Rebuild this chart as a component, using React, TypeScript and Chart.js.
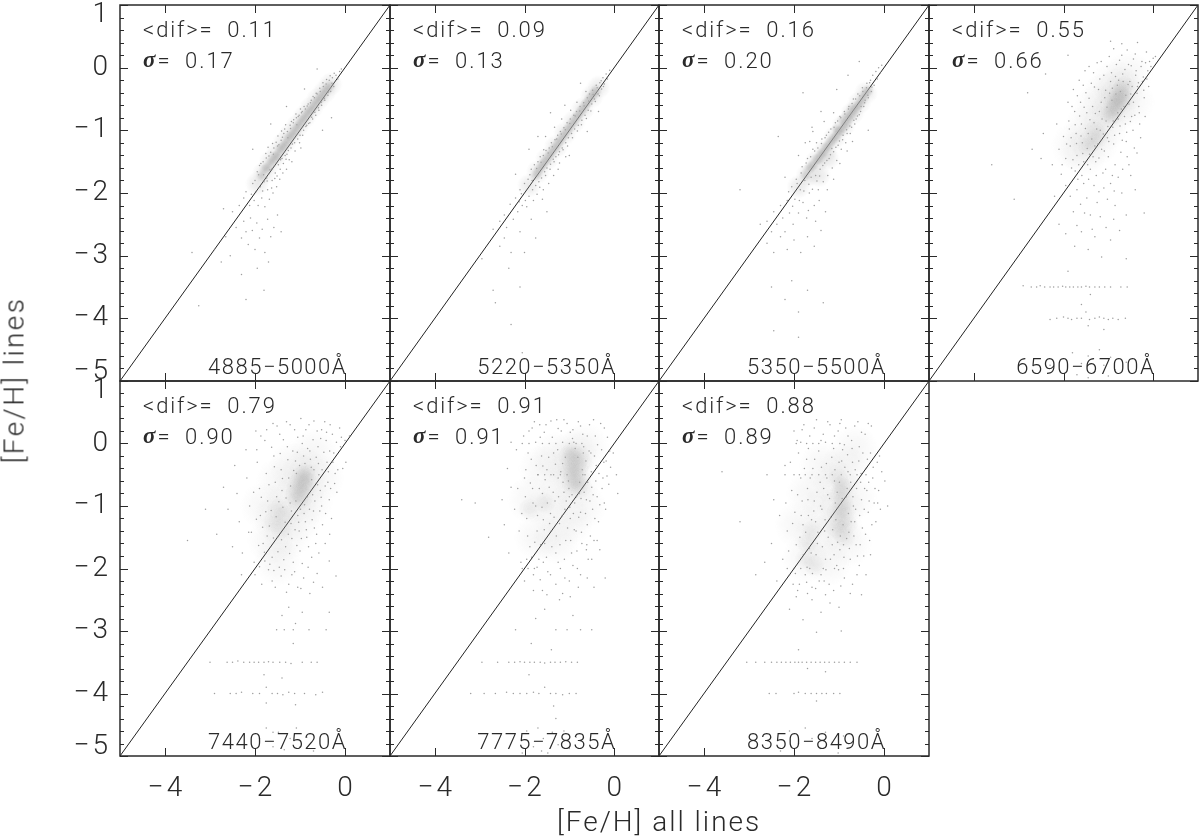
import React, { useEffect, useRef } from "react";
import { Chart, registerables } from "chart.js";

Chart.register(...registerables);

const xTickValues = [-4, -2, 0];
const yTickValues = [-5, -4, -3, -2, -1, 0, 1];
const difLabels = ["0.11", "0.09", "0.16", "0.55", "0.79", "0.91", "0.88"];
const sigmaLabels = ["0.17", "0.13", "0.20", "0.66", "0.90", "0.91", "0.89"];
const rangeLabels = ["4885−5000Å", "5220−5350Å", "5350−5500Å", "6590−6700Å", "7440−7520Å", "7775−7835Å", "8350−8490Å"];
const identityLine = [[-5, -5], [1, 1]];

const p1Haze = [[-1.95,-1.85],[-1.8,-1.68],[-1.65,-1.5],[-1.5,-1.36],[-1.35,-1.2],[-1.2,-1.06],[-1.05,-.92],[-.9,-.78],[-.75,-.64],[-.6,-.5],[-.45,-.38],[-.32,-.26]];
const p2Haze = [[-1.9,-1.88],[-1.7,-1.66],[-1.5,-1.46],[-1.3,-1.26],[-1.1,-1.05],[-.9,-.86],[-.7,-.66],[-.5,-.46],[-.35,-.31]];
const p3Haze = [[-1.9,-1.9],[-1.7,-1.72],[-1.5,-1.5],[-1.3,-1.32],[-1.1,-1.12],[-.9,-.92],[-.7,-.72],[-.55,-.56],[-.4,-.4],[-1.45,-1.72],[-1.25,-1.45]];
const p4Haze = [[-1.75,-1.25],[-1.55,-1.35],[-1.45,-.95],[-1.3,-1.2],[-1.25,-.65],[-1.1,-.95],[-1.05,-.45],[-.9,-.7],[-.8,-.55],[-.72,-.35],[-.55,-.12],[-.85,-.25],[-.5,-.55]];
const p5Haze = [[-1.8,-1.0],[-1.65,-1.55],[-1.5,-1.2],[-1.45,-.6],[-1.3,-1.5],[-1.25,-.95],[-1.15,-.35],[-1.05,-1.2],[-.95,-.72],[-.9,-.45],[-.8,-.95],[-.7,-.15],[-.55,-.55],[-1.5,-1.9]];
const p6Haze = [[-1.85,-.9],[-1.7,-1.5],[-1.6,-.4],[-1.45,-1.05],[-1.3,-.2],[-1.3,-1.55],[-1.15,-.7],[-1,-1.25],[-.95,-.4],[-.88,-.15],[-.85,-.65],[-.7,-1.0],[-.65,-.05]];
const p7Haze = [[-1.9,-1.3],[-1.75,-1.85],[-1.65,-.8],[-1.5,-1.5],[-1.35,-.35],[-1.3,-1.05],[-1.25,-1.9],[-1.05,-.65],[-1,-1.35],[-.95,-1.05],[-.9,-.4],[-.8,-1.6],[-.7,-.85],[-.65,-.1]];

const p1Core = [[-1.85,-1.72],[-1.78,-1.62],[-1.72,-1.6],[-1.66,-1.52],[-1.6,-1.48],[-1.55,-1.42],[-1.5,-1.4],[-1.45,-1.32],[-1.4,-1.28],[-1.35,-1.24],[-1.3,-1.2],[-1.25,-1.13],[-1.2,-1.09],[-1.15,-1.05],[-1.1,-1.0],[-1.05,-.94],[-1,-.9],[-.95,-.84],[-.9,-.8],[-.85,-.75],[-.8,-.7],[-.75,-.66],[-.7,-.62],[-.65,-.56],[-.6,-.52],[-.55,-.48],[-.5,-.44],[-.45,-.38],[-.4,-.34],[-.34,-.29]];
const p1Cloud = [[-2.25,-2.08],[-2.2,-1.98],[-2.12,-2.2],[-2.08,-2.02],[-2.05,-1.85],[-2.02,-2.12],[-2,-1.8],[-1.98,-1.98],[-1.95,-1.66],[-1.93,-2.2],[-1.9,-1.56],[-1.88,-1.9],[-1.85,-2.08],[-1.82,-1.5],[-1.8,-1.82],[-1.78,-2.22],[-1.75,-1.44],[-1.72,-1.95],[-1.7,-1.7],[-1.68,-2.1],[-1.65,-1.35],[-1.62,-1.8],[-1.6,-2.0],[-1.58,-1.28],[-1.55,-1.68],[-1.52,-1.9],[-1.5,-1.25],[-1.48,-1.55],[-1.45,-1.78],[-1.42,-1.16],[-1.4,-1.45],[-1.38,-1.68],[-1.36,-1.05],[-1.33,-1.4],[-1.3,-1.62],[-1.28,-1.02],[-1.26,-1.32],[-1.22,-.92],[-1.2,-1.28],[-1.18,-1.5],[-1.15,-.88],[-1.12,-1.2],[-1.08,-.8],[-1.05,-1.14],[-1.02,-.76],[-1,-1.08],[-.98,-1.28],[-.95,-.7],[-.92,-1.0],[-.88,-.66],[-.85,-.92],[-.82,-.58],[-.78,-.88],[-.75,-.52],[-.72,-.82],[-.68,-.48],[-.65,-.76],[-.62,-.42],[-.58,-.68],[-.55,-.38],[-.52,-.6],[-.48,-.3],[-.45,-.52],[-.42,-.26],[-.38,-.44],[-.35,-.2],[-.32,-.38],[-.28,-.16],[-.25,-.3],[-.2,-.12],[-.16,-.18],[-.12,-.06],[-.08,-.02],[-.62,-.02],[-.9,-.34],[-1.3,-.62],[-2.5,-2.3],[-2.42,-2.55],[-2.35,-2.2],[-2.3,-2.72],[-2.25,-2.45],[-2.2,-2.62],[-2.15,-2.82],[-2.1,-2.4],[-2.06,-2.6],[-2,-2.9],[-1.96,-2.48],[-1.9,-2.72],[-1.84,-2.58],[-1.78,-2.95],[-1.72,-2.42],[-1.65,-2.7],[-1.58,-2.55],[-1.5,-2.35],[-1.42,-2.62],[-2.65,-2.7],[-2.55,-3.0],[-2.75,-3.1],[-2.3,-3.3],[-1.8,-3.55],[-2.2,-3.7],[-1.95,-3.2],[-1.7,-3.1],[-3.25,-3.8],[-2.9,-2.9],[-3.4,-2.95],[-2.7,-2.25],[-2.05,-1.3],[-1.65,-.9],[-.5,-1.0],[-.3,-.8]];
const p1Extra = [[-1.92,-1.71],[-1.87,-1.53],[-1.83,-1.97],[-1.76,-1.37],[-1.74,-1.76],[-1.69,-1.41],[-1.67,-1.63],[-1.63,-1.92],[-1.59,-1.38],[-1.57,-1.57],[-1.53,-1.19],[-1.51,-1.73],[-1.47,-1.23],[-1.44,-1.62],[-1.39,-1.11],[-1.37,-1.53],[-1.34,-.98],[-1.29,-1.38],[-1.27,-1.12],[-1.24,-1.47],[-1.21,-.97],[-1.17,-1.22],[-1.14,-.83],[-1.11,-1.33],[-1.07,-.91],[-1.04,-.78],[-1.01,-1.2],[-.97,-.72],[-.94,-1.08],[-.91,-.62],[-.87,-.94],[-.84,-.61],[-.81,-.89],[-.77,-.56],[-.74,-.79],[-.71,-.46],[-.67,-.71],[-.64,-.41],[-.59,-.64],[-.56,-.33],[-.53,-.55],[-.49,-.24],[-.46,-.49],[-.41,-.19],[-.37,-.39],[-.33,-.13],[-.29,-.25],[-.24,-.09],[-1.31,-1.46],[-1.43,-1.47],[-1.56,-1.77],[-1.62,-1.61],[-1.73,-1.81],[-1.81,-1.71],[-.99,-.66],[-1.09,-.74],[-1.19,-.86],[-1.32,-.91],[-1.41,-1.01],[-1.49,-1.09],[-1.61,-1.21],[-1.71,-1.27]];

const p2Core = [[-1.75,-1.72],[-1.7,-1.66],[-1.65,-1.6],[-1.6,-1.55],[-1.55,-1.5],[-1.5,-1.46],[-1.45,-1.4],[-1.4,-1.36],[-1.35,-1.3],[-1.3,-1.26],[-1.25,-1.2],[-1.2,-1.16],[-1.15,-1.1],[-1.1,-1.06],[-1.05,-1.0],[-1,-.96],[-.95,-.9],[-.9,-.86],[-.85,-.8],[-.8,-.76],[-.75,-.7],[-.7,-.66],[-.65,-.6],[-.6,-.56],[-.55,-.5],[-.5,-.46],[-.45,-.41],[-.4,-.36]];
const p2Cloud = [[-2.55,-2.45],[-2.45,-2.35],[-2.4,-2.55],[-2.32,-2.18],[-2.25,-2.42],[-2.2,-2.08],[-2.15,-2.3],[-2.1,-1.95],[-2.05,-2.2],[-2,-1.85],[-1.98,-2.12],[-1.92,-1.78],[-1.9,-2.05],[-1.85,-1.62],[-1.82,-1.95],[-1.78,-1.55],[-1.75,-1.88],[-1.7,-1.5],[-1.68,-1.82],[-1.65,-1.42],[-1.62,-1.76],[-1.58,-1.4],[-1.55,-1.66],[-1.52,-1.32],[-1.5,-1.6],[-1.45,-1.28],[-1.42,-1.54],[-1.4,-1.2],[-1.36,-1.46],[-1.32,-1.15],[-1.3,-1.42],[-1.26,-1.08],[-1.22,-1.34],[-1.2,-1.02],[-1.16,-1.28],[-1.12,-.96],[-1.08,-1.2],[-1.05,-.88],[-1.02,-1.12],[-.98,-.82],[-.95,-1.05],[-.9,-.76],[-.88,-.98],[-.84,-.7],[-.8,-.92],[-.76,-.62],[-.72,-.84],[-.68,-.56],[-.65,-.76],[-.6,-.48],[-.58,-.68],[-.55,-.42],[-.5,-.58],[-.48,-.36],[-.44,-.5],[-.4,-.28],[-.36,-.42],[-.32,-.24],[-.28,-.34],[-.25,-.16],[-.22,-.26],[-.18,-.1],[-.15,-.18],[-.1,-.04],[-2.7,-2.58],[-2.55,-2.85],[-2.45,-2.72],[-2.3,-2.95],[-2.1,-2.62],[-2,-2.95],[-1.85,-2.42],[-1.75,-2.72],[-1.6,-2.1],[-1.5,-2.3],[-2.35,-3.2],[-2.7,-3.55],[-2.65,-3.75],[-2.1,-3.5],[-2.3,-4.1],[-2.05,-4.55],[-2.95,-3.05],[-2.2,-1.7],[-1.9,-1.3],[-1.7,-1.1],[-1.42,-.72],[-1.1,-.6],[-.75,-.25],[-1,-1.4],[-1.25,-1.62],[-.6,-1.02],[-.35,-.7]];
const p2Extra = [[-2.12,-2.14],[-2.07,-2.01],[-1.95,-2.22],[-1.88,-1.71],[-1.83,-1.8],[-1.73,-1.61],[-1.66,-1.91],[-1.63,-1.51],[-1.57,-1.31],[-1.53,-1.72],[-1.47,-1.36],[-1.43,-1.62],[-1.38,-1.26],[-1.34,-1.5],[-1.28,-1.14],[-1.24,-1.39],[-1.18,-1.06],[-1.14,-1.31],[-1.09,-.99],[-1.04,-1.25],[-.99,-.89],[-.93,-1.12],[-.87,-.77],[-.82,-1.01],[-.77,-.69],[-.73,-.91],[-.67,-.61],[-.62,-.81],[-.57,-.53],[-.52,-.69],[-.47,-.43],[-.42,-.54],[-.38,-.32],[-.33,-.45],[-.29,-.21],[-.24,-.3],[-1.8,-2.12],[-1.72,-2.02],[-1.58,-1.95],[-1.46,-1.85],[-1.35,-1.72],[-1.22,-1.52],[-1.08,-1.42],[-1.53,-1.1],[-1.33,-.95],[-1.17,-.82],[-.97,-.68],[-.83,-.55],[-.63,-.38]];

const p3Core = [[-1.75,-1.72],[-1.68,-1.62],[-1.62,-1.58],[-1.56,-1.54],[-1.5,-1.46],[-1.45,-1.46],[-1.4,-1.38],[-1.35,-1.36],[-1.3,-1.28],[-1.25,-1.26],[-1.2,-1.2],[-1.15,-1.16],[-1.1,-1.12],[-1.05,-1.08],[-1,-1.02],[-.95,-1.0],[-.9,-.94],[-.85,-.9],[-.8,-.84],[-.75,-.78],[-.7,-.74],[-.65,-.68],[-.6,-.62],[-.55,-.58],[-.5,-.52],[-.45,-.46],[-.4,-.4],[-.35,-.36],[-.92,-.84],[-.82,-.76],[-.72,-.66],[-1.05,-.98]];
const p3Cloud = [[-2.6,-2.45],[-2.5,-2.62],[-2.45,-2.3],[-2.38,-2.5],[-2.3,-2.2],[-2.25,-2.4],[-2.2,-2.62],[-2.15,-2.12],[-2.1,-2.32],[-2.05,-1.9],[-2.02,-2.5],[-1.98,-2.1],[-1.95,-1.78],[-1.9,-2.32],[-1.86,-1.95],[-1.82,-1.58],[-1.8,-2.15],[-1.76,-1.8],[-1.72,-2.4],[-1.7,-1.45],[-1.66,-2.0],[-1.62,-1.75],[-1.58,-1.3],[-1.55,-2.2],[-1.52,-1.72],[-1.5,-1.2],[-1.46,-1.95],[-1.42,-1.62],[-1.38,-1.14],[-1.35,-1.82],[-1.32,-1.52],[-1.28,-1.08],[-1.25,-1.72],[-1.22,-1.45],[-1.18,-.98],[-1.15,-1.6],[-1.12,-1.34],[-1.08,-.88],[-1.05,-1.48],[-1.02,-1.24],[-.98,-.78],[-.95,-1.3],[-.92,-1.15],[-.88,-.7],[-.85,-1.2],[-.82,-1.05],[-.78,-.62],[-.75,-1.05],[-.72,-.95],[-.68,-.5],[-.65,-.9],[-.62,-.82],[-.58,-.42],[-.55,-.75],[-.52,-.7],[-.48,-.32],[-.45,-.62],[-.42,-.52],[-.38,-.25],[-.35,-.48],[-.3,-.2],[-.28,-.38],[-.25,-.12],[-.22,-.28],[-.18,-.06],[-.15,-.18],[-.12,0],[-.08,-.08],[-.05,.04],[-2.75,-2.5],[-2.6,-2.8],[-2.45,-2.95],[-2.3,-2.7],[-2.15,-2.9],[-2,-2.75],[-1.85,-2.95],[-1.7,-2.7],[-1.55,-2.85],[-1.4,-2.6],[-1.3,-2.3],[-2.2,-3.7],[-2.05,-3.4],[-1.7,-3.55],[-1.9,-3.9],[-1.35,-3.75],[-2.5,-3.5],[-2.45,-4.2],[-1.9,-4.3],[-3.2,-1.95],[-2.35,-1.1],[-1.8,-.4],[-1.4,-.7],[-1.6,-.95],[-1.05,-.35],[-.8,-.12],[-.55,.1],[-1.75,-1.2],[-2.2,-1.75],[-.35,-1.0]];
const p3Extra = [[-2.12,-1.98],[-2.03,-2.21],[-1.93,-1.85],[-1.88,-2.12],[-1.84,-1.68],[-1.78,-1.97],[-1.73,-1.52],[-1.67,-1.86],[-1.63,-1.42],[-1.59,-1.94],[-1.54,-1.33],[-1.49,-1.81],[-1.47,-1.28],[-1.43,-1.73],[-1.39,-1.21],[-1.36,-1.56],[-1.31,-1.12],[-1.27,-1.48],[-1.23,-1.03],[-1.19,-1.39],[-1.16,-1.29],[-1.11,-.95],[-1.07,-1.27],[-1.03,-.85],[-.99,-1.17],[-.96,-.8],[-.91,-1.08],[-.87,-.74],[-.83,-.99],[-.79,-.66],[-.76,-.93],[-.71,-.57],[-.67,-.84],[-.63,-.5],[-.59,-.77],[-.54,-.45],[-.51,-.62],[-.47,-.38],[-.43,-.56],[-.39,-.32],[-.36,-.44],[-.32,-.24],[-.27,-.31],[-1.58,-1.02],[-1.33,-.86],[-1.12,-.72],[-1.9,-1.4],[-1.65,-1.18],[-1.44,-2.12],[-1.26,-1.95],[-1.12,-1.78],[-.98,-1.53],[-.82,-1.33],[-.7,-1.18],[-1.68,-2.28],[-1.52,-2.45]];

const p4Core = [[-.98,-.78],[-.94,-.68],[-.9,-.75],[-.88,-.58],[-.85,-.66],[-.82,-.5],[-.8,-.6],[-.78,-.42],[-.76,-.55],[-.72,-.46],[-.7,-.36],[-.68,-.5],[-.65,-.3],[-1.3,-1.0],[-1.35,-1.18],[-1.45,-1.25],[-1.2,-1.1]];
const p4Cloud = [[-2.7,-1.3],[-2.5,-1.45],[-2.45,-1.05],[-2.25,-1.55],[-2.15,-.9],[-2.1,-1.3],[-2.05,-1.7],[-2,-1.1],[-1.95,-1.45],[-1.9,-.55],[-1.88,-.85],[-1.85,-1.25],[-1.82,-1.6],[-1.78,-.35],[-1.75,-.7],[-1.72,-1.05],[-1.7,-1.4],[-1.68,-1.78],[-1.65,-.2],[-1.62,-.55],[-1.6,-.9],[-1.58,-1.2],[-1.55,-1.5],[-1.52,-.05],[-1.5,-.4],[-1.48,-.72],[-1.45,-1.05],[-1.42,-1.38],[-1.4,-1.62],[-1.38,-.25],[-1.35,-.62],[-1.32,-.88],[-1.3,-1.25],[-1.28,-1.5],[-1.25,.08],[-1.22,-.35],[-1.2,-.7],[-1.18,-1.0],[-1.15,-1.3],[-1.12,-1.68],[-1.1,-.12],[-1.08,-.48],[-1.05,-.85],[-1.02,-1.12],[-1,-1.42],[-.98,.18],[-.95,-.22],[-.92,-.52],[-.9,-.95],[-.88,-1.22],[-.85,-1.55],[-.82,.05],[-.8,-.28],[-.78,-.82],[-.75,-1.05],[-.72,-1.35],[-.7,.2],[-.68,-.1],[-.65,-.62],[-.62,-.9],[-.6,-1.18],[-.58,-1.42],[-.55,.05],[-.52,-.22],[-.5,-.42],[-.48,-.78],[-.45,-1.0],[-.42,-1.28],[-.4,.22],[-.38,-.05],[-.35,-.3],[-.32,-.62],[-.3,-.9],[-.28,-1.12],[-.25,.1],[-.22,-.15],[-.2,-.48],[-.18,-.78],[-.15,.25],[-.12,-.05],[-.1,-.3],[-.08,.1],[-.05,.02],[0,.15],[.05,.18],[-1.95,-1.88],[-1.85,-2.05],[-1.78,-2.3],[-1.7,-1.95],[-1.62,-2.18],[-1.55,-1.85],[-1.48,-2.08],[-1.4,-2.35],[-1.32,-1.88],[-1.25,-2.15],[-1.18,-2.38],[-1.1,-1.92],[-1.02,-2.1],[-.95,-1.85],[-.85,-2.2],[-.78,-1.75],[-.7,-2.0],[-.6,-2.35],[-.5,-1.72],[-.4,-1.95],[-.2,-2.32],[-2.2,-2.05],[-2.1,-2.5],[-1.95,-2.65],[-1.75,-2.85],[-1.6,-2.62],[-1.45,-2.9],[-1.3,-2.7],[-1.15,-3.02],[-.95,-2.75],[-.75,-2.6],[-.6,-3.05],[-3.6,-1.55],[-3.1,-2.1],[-2.8,-.4],[-2.4,-.1],[-1.9,.2],[-.95,.42],[-.7,.38],[-.35,.4],[-2.9,-3.48],[-2.72,-3.5],[-2.6,-3.5],[-2.52,-3.48],[-2.42,-3.5],[-2.3,-3.5],[-2.22,-3.5],[-2.12,-3.5],[-2.02,-3.49],[-1.95,-3.5],[-1.86,-3.5],[-1.78,-3.5],[-1.68,-3.5],[-1.6,-3.5],[-1.5,-3.49],[-1.42,-3.5],[-1.3,-3.5],[-1.2,-3.5],[-1.08,-3.5],[-.95,-3.5],[-.72,-3.5],[-.58,-3.5],[-1.9,-3.25],[-1.4,-3.62],[-1.6,-3.78],[-2.3,-4.02],[-2.15,-4],[-2,-3.98],[-1.9,-4],[-1.82,-4.02],[-1.7,-4],[-1.6,-4],[-1.5,-3.9],[-1.42,-4.02],[-1.3,-4],[-1.2,-3.98],[-1.1,-4],[-1,-4.02],[-.9,-4],[-.78,-4.02],[-.62,-4],[-1.45,-4.12],[-1.1,-4.18],[-1.8,-4.55],[-1.6,-4.72],[-1.45,-4.6],[-1.3,-4.85],[-1.2,-4.5],[-1.1,-4.75],[-1,-4.92],[-.95,-4.62],[-1.7,-4.9],[-.85,-4.82],[-1.45,-4.95],[-2.3,-4.75],[-.6,-4.7]];
const p4Extra = [[-1.83,-1.12],[-1.79,-1.47],[-1.74,-.91],[-1.71,-1.21],[-1.66,-1.55],[-1.64,-.77],[-1.61,-1.09],[-1.57,-1.37],[-1.54,-.63],[-1.51,-.97],[-1.47,-1.29],[-1.46,-1.55],[-1.43,-.49],[-1.41,-.83],[-1.37,-1.14],[-1.34,-1.42],[-1.31,-.31],[-1.29,-.73],[-1.26,-.98],[-1.23,-1.22],[-1.21,-1.44],[-1.19,-.18],[-1.16,-.55],[-1.14,-.82],[-1.11,-1.06],[-1.09,-1.33],[-1.06,-.36],[-1.03,-.63],[-1.01,-.94],[-.99,-1.18],[-.97,-.41],[-.93,-.08],[-.91,-.33],[-.89,-.85],[-.86,-1.08],[-.84,-.14],[-.83,-.42],[-.79,-.72],[-.77,-.2],[-.74,-.93],[-.73,-.38],[-.71,-.66],[-.69,-1.16],[-.67,-.22],[-.64,-.78],[-.63,-.03],[-.61,-.44],[-.59,-1.03],[-.56,-.27],[-.54,-.58],[-.51,-.86],[-.49,.03],[-.47,-.3],[-.44,-.55],[-.41,-.76],[-.39,-.12],[-.36,-.41],[-.33,-.24],[-.31,-.72],[-.27,.02],[-.24,-.22],[-.21,-.36],[-.17,.08],[-.14,-.18],[-2.03,-1.55],[-1.93,-1.22],[-1.87,-.98],[-1.81,-.62],[-1.69,-.45],[-1.56,-.28],[-1.43,.02],[-1.33,-.08],[-1.16,.1],[-1.03,.02],[-.88,.3],[-.75,.12],[-.58,.28],[-.44,.14],[-1.74,-1.65],[-1.59,-1.72],[-1.44,-1.78],[-1.27,-1.72],[-1.06,-1.62],[-.91,-1.72],[-.68,-1.62],[-.54,-1.55],[-.36,-1.36],[-1.53,-2.32],[-1.21,-1.98],[-.87,-1.97],[-1.36,-2.58],[-1.05,-2.55],[-1.7,-2.52],[-.88,-2.42]];

const p5Core = [[-1.12,-.82],[-1.08,-.72],[-1.05,-.92],[-1.02,-.62],[-1,-.78],[-.98,-.52],[-.96,-.68],[-.94,-.86],[-.92,-.58],[-.9,-.48],[-.88,-.72],[-.85,-.62],[-.82,-.5],[-1.6,-1.25],[-1.5,-1.05],[-1.42,-1.35],[-1.35,-1.15]];
const p5Cloud = [[-3.5,-1.55],[-3.1,-1.05],[-2.85,-1.45],[-2.7,-.7],[-2.6,-1.05],[-2.5,-1.65],[-2.45,-.35],[-2.4,-.8],[-2.35,-1.25],[-2.28,-1.75],[-2.2,-.1],[-2.18,-.55],[-2.12,-1.0],[-2.08,-1.42],[-2.02,-1.9],[-1.98,.2],[-1.95,-.3],[-1.9,-.72],[-1.88,-1.15],[-1.82,-1.6],[-1.78,.05],[-1.75,-.48],[-1.72,-.92],[-1.68,-1.32],[-1.62,-1.82],[-1.6,.32],[-1.58,-.2],[-1.55,-.62],[-1.52,-.85],[-1.5,-1.5],[-1.46,-1.98],[-1.45,.15],[-1.42,-.42],[-1.4,-.75],[-1.38,-1.02],[-1.32,-1.65],[-1.3,.35],[-1.28,-.05],[-1.25,-.55],[-1.22,-.95],[-1.2,-1.28],[-1.18,-1.52],[-1.15,-1.9],[-1.12,.22],[-1.1,-.28],[-1.08,-.48],[-1.05,-1.15],[-1.02,-1.4],[-1,-1.72],[-.98,.4],[-.95,0],[-.92,-.2],[-.9,-.98],[-.88,-1.25],[-.85,-1.5],[-.82,-1.98],[-.8,.3],[-.78,-.12],[-.75,-.38],[-.72,-.82],[-.7,-1.08],[-.68,-1.35],[-.65,-1.6],[-.62,.2],[-.6,-.05],[-.58,-.5],[-.55,-.75],[-.52,-1.0],[-.5,-1.3],[-.45,.35],[-.42,.05],[-.4,-.3],[-.38,-.62],[-.35,-.9],[-.3,-1.2],[-.28,.15],[-.25,-.15],[-.22,-.48],[-.18,-.78],[-.12,.25],[-.1,-.05],[-.05,-.4],[0,.05],[.02,-.3],[.1,.12],[-2,-2.1],[-1.85,-2.25],[-1.7,-2.02],[-1.55,-2.3],[-1.42,-2.12],[-1.3,-2.38],[-1.18,-2.1],[-1.05,-2.3],[-.92,-2.15],[-.78,-2.4],[-.62,-2.08],[-.5,-2.3],[-.35,-1.88],[-.2,-2.12],[-2.3,-2.1],[-1.4,-2.75],[-1.25,-2.62],[-1.1,-2.88],[-.95,-2.7],[-.8,-2.98],[-1.52,-2.98],[-1.35,-2.98],[-1.15,-2.98],[-.42,-2.98],[-.35,-2.7],[-3,-3.5],[-2.62,-3.5],[-2.5,-3.5],[-2.38,-3.48],[-2.25,-3.5],[-2.12,-3.5],[-2.02,-3.5],[-1.92,-3.5],[-1.8,-3.5],[-1.7,-3.49],[-1.6,-3.5],[-1.45,-3.5],[-1.32,-3.5],[-1.2,-3.52],[-.95,-3.5],[-.75,-3.5],[-.62,-3.5],[-1.15,-3.2],[-1.8,-3.7],[-1.4,-3.75],[-2.9,-4],[-2.55,-4],[-2.42,-4],[-2.3,-3.98],[-2.05,-4],[-1.9,-4],[-1.75,-3.9],[-1.62,-4],[-1.5,-4],[-1.38,-4.02],[-1.25,-3.98],[-1.12,-4],[-.9,-4],[-.65,-4.02],[-.5,-3.98],[-1.75,-4.15],[-1.1,-4.18],[-1.9,-4.72],[-1.75,-4.55],[-1.6,-4.85],[-1.48,-4.62],[-1.35,-4.9],[-1.22,-4.72],[-1.08,-4.55],[-1,-4.85],[-.85,-4.7],[-.7,-4.92],[-1.6,-4.62]];
const p5Extra = [[-1.97,-1.21],[-1.92,-1.63],[-1.86,-.86],[-1.83,-1.34],[-1.79,-1.74],[-1.76,-1.09],[-1.73,-1.48],[-1.69,-.66],[-1.67,-1.93],[-1.64,-1.07],[-1.59,-1.51],[-1.57,-.37],[-1.53,-1.17],[-1.49,-1.73],[-1.47,-.93],[-1.44,-.16],[-1.41,-1.54],[-1.39,-.56],[-1.36,-1.86],[-1.33,-1.26],[-1.31,-.87],[-1.27,-.26],[-1.26,-1.45],[-1.23,-1.76],[-1.21,-.68],[-1.19,-1.08],[-1.16,-.12],[-1.14,-.43],[-1.11,-1.38],[-1.09,-.92],[-1.07,-1.63],[-1.06,-.14],[-1.03,-1.26],[-1.01,-.35],[-.99,-1.05],[-.97,-1.52],[-.93,.12],[-.91,-1.12],[-.89,-.32],[-.86,-1.38],[-.84,-.85],[-.83,-.08],[-.81,-1.65],[-.79,-1.05],[-.77,-.25],[-.74,-.58],[-.73,-1.22],[-.71,.06],[-.69,-.42],[-.67,-.92],[-.64,-.22],[-.63,-1.45],[-.61,-.66],[-.59,-.32],[-.56,-1.08],[-.54,.08],[-.53,-.86],[-.51,-.42],[-.47,-.14],[-.44,-.68],[-.43,-1.12],[-.41,.18],[-.37,-.45],[-.34,-.12],[-.32,-.72],[-.27,-.3],[-.23,-.64],[-.19,.02],[-.16,-.42],[-.08,.1],[-2.14,-1.42],[-2.03,-.78],[-1.96,-.1],[-1.87,.12],[-1.74,.22],[-1.63,-.06],[-1.51,.28],[-1.37,.06],[-1.22,.3],[-1.05,.1],[-.87,.22],[-.69,.36],[-.52,.22],[-.33,.3],[-1.9,-1.97],[-1.78,-1.88],[-1.58,-2.03],[-1.34,-2.02],[-1.12,-2.05],[-.95,-1.92],[-.74,-1.82],[-.58,-1.75],[-.44,-1.6],[-.34,-1.45],[-1.62,-2.2],[-1.25,-2.25],[-.98,-2.32],[-.7,-2.22]];

const p6Core = [[-1.02,-.2],[-1,-.45],[-.98,-.3],[-.96,-.6],[-.95,-.12],[-.92,-.42],[-.9,-.22],[-.9,-.7],[-.88,-.52],[-.85,-.34],[-.82,-.62],[-.8,-.4],[-.78,-.18],[-.76,-.55],[-.72,-.3],[-.72,-.7],[-1.55,-.95],[-1.9,-1.05]];
const p6Cloud = [[-3.4,-.9],[-3.1,-.95],[-2.8,-1.5],[-2.5,-.9],[-2.45,-1.3],[-2.38,-.4],[-2.35,-1.75],[-2.3,-.7],[-2.22,-1.05],[-2.18,-.1],[-2.12,-1.4],[-2.08,-1.9],[-2,-.55],[-1.98,-.85],[-1.95,-1.2],[-1.9,.2],[-1.88,-1.65],[-1.85,-.25],[-1.82,-.72],[-1.8,-2.1],[-1.78,.35],[-1.75,-1.0],[-1.72,-1.4],[-1.7,-.5],[-1.68,-1.85],[-1.65,.1],[-1.62,-.2],[-1.6,-.8],[-1.58,-1.22],[-1.55,-1.6],[-1.52,.3],[-1.5,-.42],[-1.48,-2.05],[-1.45,-.7],[-1.42,-1.12],[-1.4,-1.4],[-1.38,.1],[-1.35,-.15],[-1.32,-.92],[-1.3,-1.75],[-1.28,.38],[-1.25,-.55],[-1.22,-1.28],[-1.2,-2.0],[-1.18,.2],[-1.15,-.32],[-1.12,-.78],[-1.1,-1.05],[-1.08,-1.55],[-1.05,.32],[-1.02,-.6],[-1,-.85],[-.98,-1.2],[-.95,-1.75],[-.92,.22],[-.9,.02],[-.88,-.95],[-.85,-1.4],[-.82,-2.0],[-.8,.35],[-.78,-.8],[-.75,-1.1],[-.72,-1.6],[-.7,.15],[-.68,-.05],[-.65,-.5],[-.62,-.9],[-.6,-1.3],[-.58,-1.85],[-.55,.3],[-.52,-.15],[-.5,-.7],[-.48,-1.05],[-.45,-1.55],[-.42,.12],[-.4,-.35],[-.38,-.85],[-.35,-1.25],[-.32,-1.7],[-.3,.32],[-.28,-.1],[-.25,-.55],[-.22,-.95],[-.18,-.28],[-.15,.1],[-.12,-.65],[-.08,-.38],[-.02,-.15],[.05,-.5],[.08,-.8],[-2,-2.2],[-1.8,-2.35],[-1.65,-2.18],[-1.5,-2.42],[-1.3,-2.25],[-1.15,-2.4],[-1,-2.2],[-.8,-2.3],[-.6,-2.15],[-.45,-2.3],[-.2,-2.15],[-1.75,-2.8],[-1.55,-2.65],[-1.3,-2.98],[-1.05,-2.98],[-.92,-2.75],[-.75,-2.98],[-.5,-2.98],[-2.2,-2.98],[-2.3,.02],[-2.05,0],[-1.9,0],[-1.75,.02],[-1.6,0],[-1.45,0],[-1.3,0],[-1.15,.02],[-1,0],[-.85,0],[-.72,0],[-1.7,-.5],[-1.55,-.5],[-1.35,-.5],[-1.2,-.5],[-1.05,-.5],[-.7,-.5],[-2.05,-2],[-1.92,-2],[-1.78,-2],[-2.95,-3.5],[-2.6,-3.5],[-2.35,-3.5],[-2.22,-3.5],[-2.1,-3.49],[-2,-3.5],[-1.88,-3.5],[-1.78,-3.5],[-1.65,-3.5],[-1.55,-3.51],[-1.42,-3.5],[-1.32,-3.5],[-1.2,-3.5],[-1.08,-3.49],[-.95,-3.5],[-.82,-3.5],[-1.85,-3.2],[-1.4,-3.3],[-1.9,-3.7],[-3.2,-4],[-2.9,-4],[-2.65,-4],[-2.4,-3.98],[-2.25,-4],[-2.1,-4],[-1.95,-4],[-1.8,-3.98],[-1.68,-4],[-1.55,-3.9],[-1.42,-4],[-1.3,-4],[-1.15,-4.02],[-1,-4],[-.85,-4],[-1.35,-4.2],[-1.3,-4.4],[-1.95,-4.6],[-1.8,-4.85],[-1.7,-4.55],[-1.58,-4.72],[-1.48,-4.95],[-1.38,-4.62],[-1.25,-4.82],[-1.12,-4.6],[-1,-4.88],[-.85,-4.7],[-1.62,-4.92],[-2.05,-4.95]];
const p6Extra = [[-2.06,-1.12],[-1.97,-.42],[-1.93,-1.48],[-1.87,-.63],[-1.84,-1.82],[-1.81,-.95],[-1.77,-1.58],[-1.74,-.35],[-1.71,-1.15],[-1.67,-.72],[-1.64,-1.62],[-1.61,-1.02],[-1.59,-.36],[-1.56,-1.38],[-1.54,-.58],[-1.51,-1.82],[-1.49,-.95],[-1.46,-.22],[-1.44,-1.28],[-1.41,-.5],[-1.39,-1.65],[-1.36,-.78],[-1.34,-1.18],[-1.31,-.33],[-1.29,-1.48],[-1.26,-.1],[-1.24,-.85],[-1.21,-1.62],[-1.19,-.45],[-1.16,-1.15],[-1.14,-.62],[-1.11,-1.85],[-1.09,-.22],[-1.07,-.92],[-1.04,-1.35],[-1.01,-.72],[-.99,-1.02],[-.97,-1.55],[-.94,-.82],[-.93,.08],[-.91,-1.12],[-.89,-1.38],[-.87,-.08],[-.84,-.85],[-.83,-1.72],[-.81,-.22],[-.79,-1.18],[-.77,-.62],[-.74,-.88],[-.73,-1.42],[-.71,-.42],[-.69,-.15],[-.67,-.78],[-.64,-1.12],[-.63,-.28],[-.61,-1.62],[-.59,-.62],[-.56,-.12],[-.54,-.92],[-.53,-1.48],[-.51,-.45],[-.47,-.82],[-.44,-.2],[-.43,-1.2],[-.41,-.6],[-.37,-.02],[-.34,-.48],[-.32,-.98],[-.27,-.72],[-.23,-.3],[-.19,-1.05],[-.16,-.52],[-.1,-.12],[-2.15,-.72],[-2.02,.12],[-1.92,-.15],[-1.83,.25],[-1.66,.3],[-1.56,.18],[-1.41,.36],[-1.25,.24],[-1.12,.38],[-.98,.18],[-.75,.28],[-.6,.12],[-.46,.38],[-.22,.25],[-1.95,-1.85],[-1.72,-1.98],[-1.58,-1.9],[-1.42,-2.1],[-1.25,-1.9],[-1.1,-2.15],[-.92,-1.95],[-.75,-2.1],[-.62,-1.7],[-.5,-1.85],[-.38,-1.55],[-1.6,-2.35],[-1.22,-2.5],[-.98,-2.45]];

const p7Core = [[-1.02,-.55],[-1,-.82],[-.98,-1.25],[-.96,-.68],[-.95,-1.02],[-.95,-1.42],[-.92,-.92],[-.9,-.72],[-.9,-1.18],[-.88,-1.5],[-.85,-1.05],[-1.05,-1.1],[-1.08,-1.35],[-.82,-1.3],[-1.7,-1.6],[-1.75,-1.85],[-1.55,-1.95],[-1.6,-1.4]];
const p7Cloud = [[-3.6,-.45],[-3.2,-1.25],[-2.85,-2.1],[-2.65,-1.9],[-2.5,-1.6],[-2.45,-.9],[-2.38,-2.2],[-2.32,-1.15],[-2.25,-1.85],[-2.2,-.35],[-2.15,-1.4],[-2.1,-2.1],[-2.05,-.75],[-2,.2],[-1.98,-1.1],[-1.95,-1.62],[-1.9,-.15],[-1.88,-2.25],[-1.85,-.55],[-1.82,-.92],[-1.8,-1.3],[-1.78,.3],[-1.75,-2.1],[-1.72,-.25],[-1.7,-.72],[-1.68,-1.15],[-1.65,.12],[-1.62,-1.75],[-1.6,-2.3],[-1.58,-.4],[-1.55,-.92],[-1.52,-1.25],[-1.5,.38],[-1.48,-1.6],[-1.45,-.12],[-1.42,-.62],[-1.4,-2.1],[-1.38,-1.05],[-1.35,.15],[-1.32,-1.4],[-1.3,-1.85],[-1.28,-.32],[-1.25,-.82],[-1.22,-2.25],[-1.2,.3],[-1.18,-1.18],[-1.15,-1.62],[-1.12,-.08],[-1.1,-.6],[-1.08,-.95],[-1.05,-1.95],[-1.02,.2],[-1,-.3],[-.98,-1.7],[-.95,.38],[-.92,-.1],[-.9,-1.62],[-.88,-2.15],[-.85,.25],[-.82,-.72],[-.8,-.45],[-.78,-1.42],[-.75,-1.85],[-.72,.05],[-.7,-.3],[-.68,-1.0],[-.65,-1.25],[-.62,-1.62],[-.6,-2.1],[-.58,.35],[-.55,-.05],[-.52,-.62],[-.5,-.9],[-.48,-1.35],[-.45,-1.8],[-.42,.15],[-.4,-.4],[-.38,-.75],[-.35,-1.1],[-.32,-1.55],[-.3,-.15],[-.28,.28],[-.25,-.55],[-.22,-.95],[-.18,-1.25],[-.15,-.3],[-.12,-.75],[-.08,-1.05],[-.05,-.45],[.02,-.6],[.08,-1.0],[-2.1,-2.65],[-1.95,-2.45],[-1.8,-2.82],[-1.6,-2.5],[-1.4,-2.7],[-1.2,-2.55],[-1,-2.62],[-.75,-2.4],[-.5,-2.42],[-1.5,-3.02],[-.95,-3.0],[-1.95,0],[-1.85,.02],[-1.72,0],[-1.58,0],[-1.45,0],[-1.3,.02],[-1.15,0],[-.98,0],[-.88,-.02],[-2.6,-.5],[-2.2,-.5],[-2,-.5],[-1.88,-.5],[-1.75,-.5],[-1.6,-.5],[-1.45,-.5],[-1.3,-.5],[-1.15,-.5],[-.95,-.5],[-.75,-.5],[-.6,-.5],[-.4,-.5],[-2.15,-2],[-2,-2],[-1.85,-2],[-1.65,-2],[-1.35,-2],[-1.1,-2],[-.9,-2],[-3.05,-3.5],[-2.85,-3.5],[-2.65,-3.5],[-2.5,-3.5],[-2.38,-3.5],[-2.28,-3.5],[-2.18,-3.5],[-2.08,-3.5],[-1.98,-3.5],[-1.9,-3.5],[-1.82,-3.5],[-1.72,-3.5],[-1.62,-3.5],[-1.52,-3.5],[-1.42,-3.5],[-1.32,-3.5],[-1.22,-3.5],[-1.1,-3.5],[-1,-3.5],[-.88,-3.5],[-.75,-3.5],[-.6,-3.5],[-1.9,-3.3],[-1.7,-3.6],[-1.3,-3.65],[-2.55,-4],[-2.4,-4],[-2,-4],[-1.9,-3.98],[-1.75,-4],[-1.62,-4],[-1.5,-4],[-1.38,-4],[-1.28,-4],[-1.12,-4],[-.98,-4],[-1.5,-4.12],[-2.1,-4.6],[-1.9,-4.8],[-1.75,-4.55],[-1.6,-4.72],[-1.42,-4.88],[-1.3,-4.62],[-1.15,-4.78],[-1.02,-4.95],[-.9,-4.68],[-2.3,-4.92]];
const p7Extra = [[-2.12,-1.72],[-2.03,-1.28],[-1.97,-2.08],[-1.92,-.82],[-1.87,-1.5],[-1.84,-1.15],[-1.79,-1.78],[-1.77,-.4],[-1.74,-1.42],[-1.71,-1.98],[-1.69,-.9],[-1.66,-1.68],[-1.64,-.55],[-1.61,-1.22],[-1.59,-2.08],[-1.56,-1.08],[-1.54,-.25],[-1.51,-1.78],[-1.49,-.78],[-1.47,-1.42],[-1.44,-2.2],[-1.41,-1.0],[-1.39,-.38],[-1.37,-1.65],[-1.34,-.72],[-1.31,-1.22],[-1.29,-2.02],[-1.27,-.55],[-1.24,-1.5],[-1.21,-.88],[-1.19,-1.85],[-1.16,-.22],[-1.14,-1.38],[-1.11,-1.78],[-1.09,-.42],[-1.07,-1.22],[-1.04,-.78],[-1.03,-1.58],[-1.01,-2.02],[-.99,-.62],[-.97,-1.48],[-.94,-.28],[-.93,-.88],[-.91,-1.3],[-.89,-1.82],[-.87,-.38],[-.84,-.85],[-.83,-1.52],[-.81,-.18],[-.79,-1.12],[-.77,-1.68],[-.74,-.62],[-.73,-1.25],[-.71,-.08],[-.69,-.85],[-.67,-1.48],[-.64,-.42],[-.63,-1.05],[-.61,-.72],[-.59,-1.8],[-.56,-.28],[-.54,-1.15],[-.53,-1.62],[-.51,-.48],[-.47,-.15],[-.44,-1.05],[-.43,-.72],[-.41,-1.45],[-.37,-.25],[-.34,-.62],[-.33,-.92],[-.27,-1.3],[-.24,-.38],[-.2,-.72],[-.14,-.95],[-.1,-.2],[-2.18,-.95],[-2.08,-.3],[-1.93,.05],[-1.82,.22],[-1.68,-.08],[-1.55,.25],[-1.4,.05],[-1.25,.35],[-1.1,.12],[-.98,.32],[-.8,.12],[-.65,.28],[-.5,.18],[-.35,.32],[-2.02,-2.25],[-1.92,-2.35],[-1.72,-2.22],[-1.52,-2.32],[-1.33,-2.2],[-1.12,-2.35],[-.96,-2.28],[-.7,-2.25],[-.55,-1.95],[-.4,-2.1],[-.3,-1.78],[-1.7,-2.4],[-1.3,-2.42]];

const hazeSets = [p1Haze, p2Haze, p3Haze, p4Haze, p5Haze, p6Haze, p7Haze];
const coreSets = [p1Core, p2Core, p3Core, p4Core, p5Core, p6Core, p7Core];
const cloudSets = [p1Cloud, p2Cloud, p3Cloud, p4Cloud, p5Cloud, p6Cloud, p7Cloud];
const extraSets = [p1Extra, p2Extra, p3Extra, p4Extra, p5Extra, p6Extra, p7Extra];

const colX = [120, 390, 659, 929, 1198];
const rowY = [5, 381, 756];
const ink = "#2a2a2a";
const fontFam = "Roboto, 'Liberation Sans', sans-serif";

function toXY(list: number[][]) {
  return list.map(([x, y]) => ({ x, y }));
}

function softDot(radius: number, alpha: number) {
  const c = document.createElement("canvas");
  c.width = radius * 2;
  c.height = radius * 2;
  const g = c.getContext("2d") as CanvasRenderingContext2D;
  const grad = g.createRadialGradient(radius, radius, 0, radius, radius, radius);
  grad.addColorStop(0, `rgba(170,170,170,${alpha})`);
  grad.addColorStop(0.5, `rgba(170,170,170,${alpha * 0.6})`);
  grad.addColorStop(1, "rgba(170,170,170,0)");
  g.fillStyle = grad;
  g.fillRect(0, 0, radius * 2, radius * 2);
  return c;
}

function Panel({ index }: { index: number }) {
  const ref = useRef<HTMLCanvasElement>(null);
  const col = index % 4;
  const row = index < 4 ? 0 : 1;
  const narrow = index < 3;
  const showY = col === 0;
  const showX = row === 1;
  const L = showY ? 120 : 2;
  const T = row === 0 ? 5 : 3;
  const R = 2;
  const B = showX ? 60 : 3;
  const w = colX[col + 1] - colX[col];
  const h = rowY[row + 1] - rowY[row];

  useEffect(() => {
    const frame = {
      id: "frame",
      afterDraw(chart: any) {
        const { ctx, chartArea: a, scales } = chart;
        const xs = scales.x;
        const ys = scales.y;
        ctx.save();
        ctx.strokeStyle = ink;
        ctx.lineWidth = 1;
        for (const v of xTickValues) {
          const p = Math.round(xs.getPixelForValue(v)) + 0.5;
          ctx.beginPath();
          ctx.moveTo(p, a.top);
          ctx.lineTo(p, a.top + 8);
          ctx.moveTo(p, a.bottom);
          ctx.lineTo(p, a.bottom - 8);
          ctx.stroke();
        }
        for (let k = 0; k <= 30; k++) {
          const v = -5 + k * 0.2;
          const major = k % 5 === 0;
          const len = major ? 8 : 4;
          const p = Math.round(ys.getPixelForValue(v)) + 0.5;
          ctx.lineWidth = major ? 1.2 : 1;
          ctx.beginPath();
          ctx.moveTo(a.left, p);
          ctx.lineTo(a.left + len, p);
          ctx.moveTo(a.right, p);
          ctx.lineTo(a.right - len, p);
          ctx.stroke();
        }
        ctx.lineWidth = 1.5;
        ctx.strokeRect(a.left, a.top, a.right - a.left, a.bottom - a.top);

        ctx.fillStyle = ink;
        ctx.textBaseline = "middle";
        ctx.textAlign = "left";
        (ctx as any).letterSpacing = "1.9px";
        ctx.font = `300 22px ${fontFam}`;
        ctx.fillText(`<dif>= ${"\u2009"}${difLabels[index]}`, a.left + 23, a.top + 26);
        ctx.font = `italic 700 23px 'Liberation Serif', serif`;
        (ctx as any).letterSpacing = "0px";
        ctx.fillText("σ", a.left + 23, a.top + 56);
        const sw = ctx.measureText("σ").width;
        (ctx as any).letterSpacing = "1.9px";
        ctx.font = `300 22px ${fontFam}`;
        ctx.fillText(`= ${"\u2009"}${sigmaLabels[index]}`, a.left + 25 + sw, a.top + 57);
        ctx.textAlign = "right";
        ctx.font = `300 22px ${fontFam}`;
        (ctx as any).letterSpacing = "1.5px";
        ctx.fillText(rangeLabels[index], xs.getPixelForValue(0) + 2, a.bottom - 13);

        if (showY) {
          ctx.font = `300 28px ${fontFam}`;
          (ctx as any).letterSpacing = "0px";
          ctx.textAlign = "right";
          for (const v of yTickValues) {
            const shift = v === 1 ? 10 : v === -5 ? -9 : 0;
            const txt = v < 0 ? `−${"\u200a"}${-v}` : String(v);
            ctx.fillText(txt, a.left - 12, ys.getPixelForValue(v) + shift);
          }
        }
        ctx.restore();
      },
    };

    const hazeDot = narrow ? softDot(12, 0.26) : softDot(24, 0.11);
    const coreDot = narrow ? softDot(6, 0.45) : softDot(11, 0.17);

    const chart = new Chart(ref.current as HTMLCanvasElement, {
      type: "scatter",
      data: {
        datasets: [
          { data: toXY(hazeSets[index]), pointStyle: hazeDot, pointRadius: 5 },
          { data: toXY(coreSets[index]), pointStyle: coreDot, pointRadius: 5 },
          { data: toXY(cloudSets[index]), pointRadius: 0.75, pointBackgroundColor: "rgba(125,125,125,0.75)", pointBorderWidth: 0 },
          { data: toXY(extraSets[index]), pointRadius: 0.75, pointBackgroundColor: "rgba(125,125,125,0.75)", pointBorderWidth: 0 },
          { data: toXY(identityLine), showLine: true, pointRadius: 0, borderColor: "#222", borderWidth: 1 },
        ],
      },
      plugins: [frame],
      options: {
        animation: false,
        responsive: false,
        layout: { autoPadding: false, padding: { top: T, right: R, left: 0, bottom: 0 } },
        plugins: { legend: { display: false }, tooltip: { enabled: false } },
        scales: {
          x: {
            type: "linear",
            min: -5,
            max: 1,
            afterBuildTicks: (s: any) => { s.ticks = xTickValues.map((value) => ({ value })); },
            afterFit: (s: any) => { s.height = B; s.paddingLeft = 0; s.paddingRight = 0; },
            grid: { display: false, drawTicks: false },
            border: { display: false },
            ticks: {
              display: showX,
              autoSkip: false,
              maxRotation: 0,
              padding: 16,
              color: ink,
              font: { family: fontFam, size: 28, weight: "300" },
              callback: (v: any) => (v < 0 ? `−\u200a${-v}` : String(v)),
            },
          },
          y: {
            type: "linear",
            min: -5,
            max: 1,
            afterBuildTicks: (s: any) => { s.ticks = yTickValues.map((value) => ({ value })); },
            afterFit: (s: any) => { s.width = L; s.paddingTop = 0; s.paddingBottom = 0; },
            grid: { display: false, drawTicks: false },
            border: { display: false },
            ticks: { display: false },
          },
        },
      } as any,
    });
    return () => chart.destroy();
  }, []);

  return (
    <canvas
      ref={ref}
      width={L + w + R}
      height={T + h + B}
      style={{ position: "absolute", left: colX[col] - L, top: rowY[row] - T, display: "block" }}
    />
  );
}

export default function App() {
  return (
    <div style={{ position: "absolute", left: 0, top: 0, width: 1200, height: 840, overflow: "hidden", background: "#fff" }}>
      {rangeLabels.map((_, i) => (
        <Panel key={i} index={i} />
      ))}
      <div style={{ position: "absolute", left: 557, top: 805, width: 204, textAlign: "center", whiteSpace: "nowrap", font: `300 28px ${fontFam}`, letterSpacing: "2px", color: ink }}>
        [Fe/H] all lines
      </div>
      <div style={{ position: "absolute", left: 14, top: 380, whiteSpace: "nowrap", font: `300 28px ${fontFam}`, letterSpacing: "2.4px", color: ink, transform: "translate(-50%,-50%) rotate(-90deg)" }}>
        [Fe/H] lines
      </div>
    </div>
  );
}
